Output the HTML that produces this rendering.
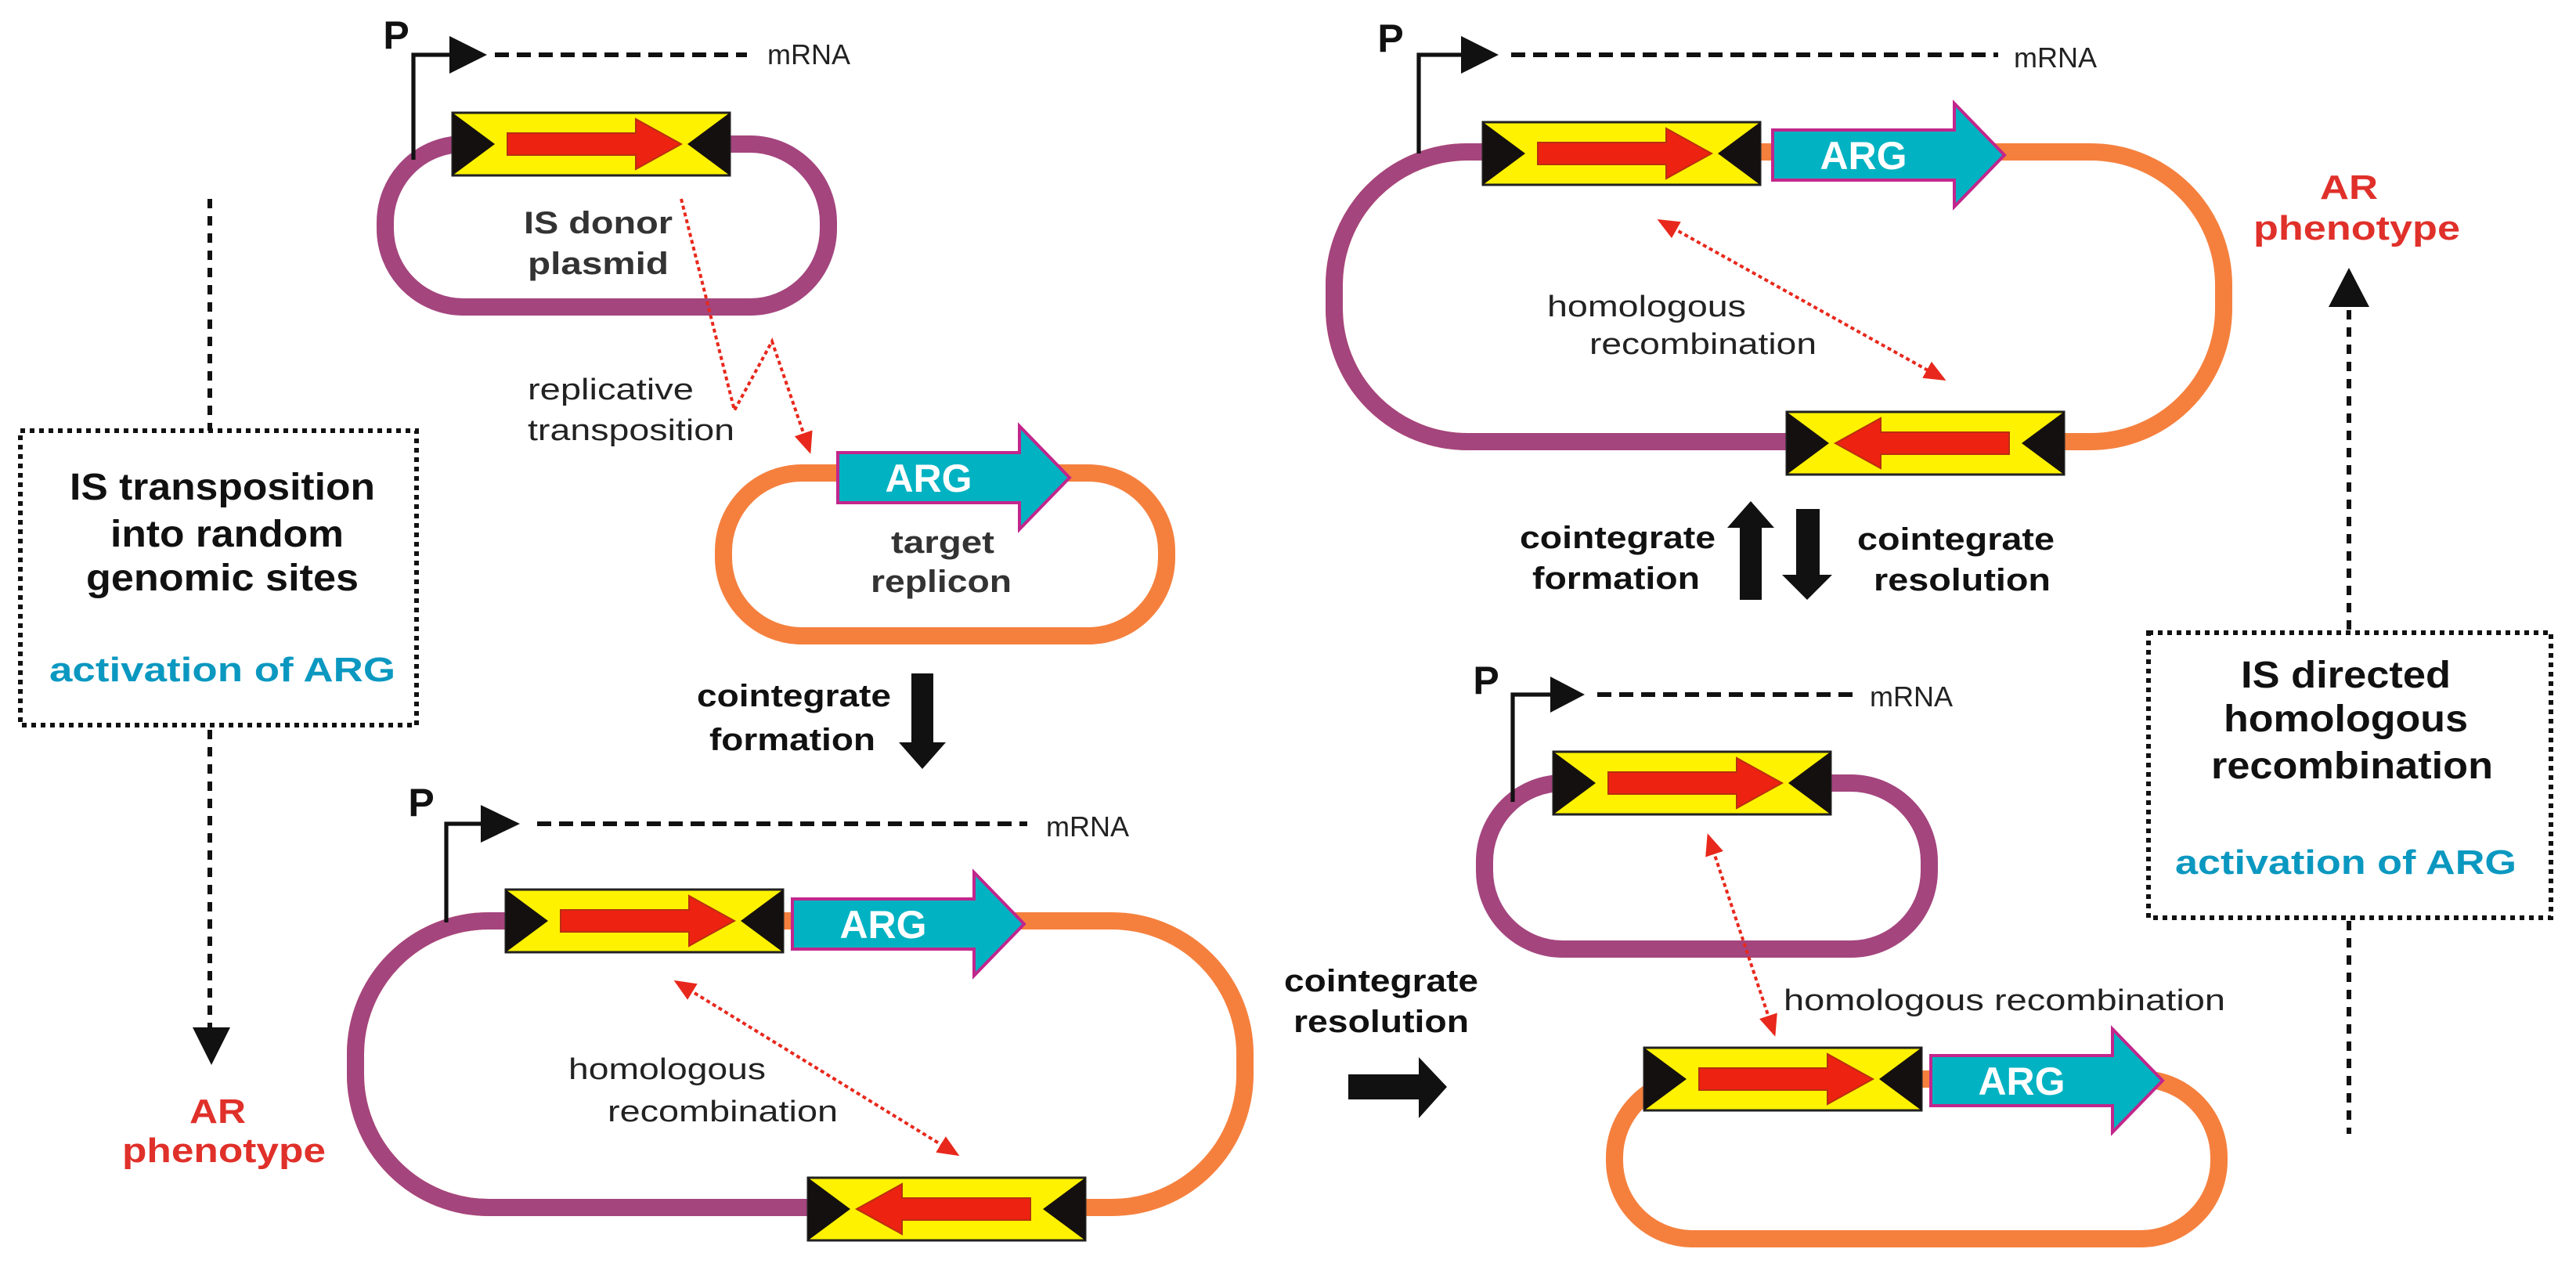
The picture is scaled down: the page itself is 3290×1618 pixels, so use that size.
<!DOCTYPE html>
<html><head><meta charset="utf-8"><style>
html,body{margin:0;padding:0;background:#fff;}
svg{display:block;}
text{font-family:"Liberation Sans",Arial,sans-serif;}
.b{font-weight:bold;}
</style></head><body>
<svg xmlns="http://www.w3.org/2000/svg" width="3290" height="1618" viewBox="0 0 1645 809">
<defs>
<marker id="rh" markerUnits="userSpaceOnUse" markerWidth="14" markerHeight="12" refX="12" refY="6" orient="auto-start-reverse"><path d="M0,0 L14,6 L0,12 z" fill="#e8281c"/></marker>
<g id="isf"><rect width="177" height="40" fill="#fff200" stroke="#222" stroke-width="1.5"/><polygon points="0,0 27,20 0,40" fill="#151010"/><polygon points="177,0 150,20 177,40" fill="#151010"/><polygon points="35,13 117,13 117,4 146,20 117,36 117,27 35,27" fill="#ee2211" stroke="#b83010" stroke-width="1"/></g>
<g id="isr"><rect width="177" height="40" fill="#fff200" stroke="#222" stroke-width="1.5"/><polygon points="0,0 27,20 0,40" fill="#151010"/><polygon points="177,0 150,20 177,40" fill="#151010"/><polygon points="142,13 60,13 60,4 31,20 60,36 60,27 142,27" fill="#ee2211" stroke="#b83010" stroke-width="1"/></g>
<g id="arg"><polygon points="0,17 116,17 116,0 148,33 116,66 116,49 0,49" fill="#00b2c2" stroke="#c2268c" stroke-width="2"/><text x="58" y="42" font-size="25" font-weight="bold" fill="#fff" text-anchor="middle">ARG</text></g>
</defs>

<!-- loops -->
<rect x="246" y="92" width="283" height="104" rx="50" fill="none" stroke="#a4457e" stroke-width="11"/>
<rect x="462" y="302" width="283" height="104" rx="50" fill="none" stroke="#f5803e" stroke-width="11"/>
<rect x="227" y="588" width="568" height="183" rx="85" fill="none" stroke="#f5803e" stroke-width="11"/>
<path d="M 323 588 H 312 A 85 85 0 0 0 227 673 V 686 A 85 85 0 0 0 312 771 H 516" fill="none" stroke="#a4457e" stroke-width="11"/>
<rect x="852" y="97" width="568" height="185" rx="85" fill="none" stroke="#f5803e" stroke-width="11"/>
<path d="M 947 97 H 937 A 85 85 0 0 0 852 182 V 197 A 85 85 0 0 0 937 282 H 1141" fill="none" stroke="#a4457e" stroke-width="11"/>
<rect x="948" y="500" width="284" height="106" rx="50" fill="none" stroke="#a4457e" stroke-width="11"/>
<rect x="1031" y="689" width="386" height="102" rx="50" fill="none" stroke="#f5803e" stroke-width="11"/>

<!-- IS boxes -->
<use href="#isf" x="289" y="72"/>
<use href="#isf" x="323" y="568"/>
<use href="#isr" x="516" y="752"/>
<use href="#isf" x="947" y="78"/>
<use href="#isr" x="1141" y="263"/>
<use href="#isf" x="992" y="480"/>
<use href="#isf" x="1050" y="669"/>

<!-- ARG -->
<use href="#arg" x="535" y="272"/>
<use href="#arg" x="506" y="557"/>
<use href="#arg" x="1132" y="66"/>
<use href="#arg" x="1233" y="657"/>

<!-- promoters -->
<g fill="none" stroke="#111" stroke-width="2.6">
<path d="M264 102 V35 H290"/><path d="M285 589 V526 H310"/><path d="M906 98 V35 H936"/><path d="M966 512 V443.5 H992"/>
</g>
<g fill="#111">
<polygon points="287,23 311,35 287,47"/><polygon points="307,514 332,526 307,538"/><polygon points="933,23 957,35 933,47"/><polygon points="990,432 1012,443.5 990,455"/>
</g>
<g stroke="#111" stroke-width="3" stroke-dasharray="9 5">
<line x1="316" y1="35" x2="477" y2="35"/><line x1="343" y1="526" x2="656" y2="526"/><line x1="965" y1="35" x2="1276" y2="35"/><line x1="1020" y1="443.5" x2="1186" y2="443.5"/>
</g>
<g font-size="25" font-weight="bold" fill="#111" text-anchor="middle">
<text x="253" y="31">P</text><text x="269" y="521">P</text><text x="888" y="33">P</text><text x="949" y="443">P</text>
</g>
<g font-size="18" fill="#222">
<text x="490" y="41">mRNA</text><text x="668" y="534">mRNA</text><text x="1286" y="43">mRNA</text><text x="1194" y="451">mRNA</text>
</g>

<!-- red dotted arrows -->
<g fill="none" stroke="#e8281c" stroke-width="2" stroke-dasharray="2.5 2">
<polyline points="435,127 469,262 493,218 517,288" marker-end="url(#rh)"/>
<line x1="432" y1="627" x2="611" y2="737" marker-start="url(#rh)" marker-end="url(#rh)"/>
<line x1="1060" y1="141" x2="1241" y2="242" marker-start="url(#rh)" marker-end="url(#rh)"/>
<line x1="1091" y1="534" x2="1133" y2="660" marker-start="url(#rh)" marker-end="url(#rh)"/>
</g>

<!-- dotted boxes and connectors -->
<g fill="none" stroke="#111" stroke-width="3" stroke-dasharray="3 3">
<rect x="13" y="275" width="253" height="188"/>
<rect x="1372" y="404" width="257" height="182"/>
</g>
<g stroke="#111" stroke-width="3" stroke-dasharray="6 5">
<line x1="134" y1="127" x2="134" y2="275"/><line x1="134" y1="466" x2="134" y2="660"/>
<line x1="1500" y1="198" x2="1500" y2="404"/><line x1="1500" y1="588" x2="1500" y2="724"/>
</g>
<polygon points="123,656 147,656 135,680" fill="#111"/>
<polygon points="1487,196 1513,196 1500,171" fill="#111"/>

<!-- big black arrows -->
<g fill="#111">
<polygon points="582,430 596,430 596,474 604,474 589,491 574,474 582,474"/>
<polygon points="1111,383 1125,383 1125,337 1133,337 1118,320 1103,337 1111,337"/>
<polygon points="1147,325 1162,325 1162,367 1170,367 1154,383 1138,367 1147,367"/>
<polygon points="861,686 906,686 906,675 924,694 906,714 906,702 861,702"/>
</g>

<!-- labels -->
<g font-size="20" font-weight="bold" fill="#333" text-anchor="middle">
<text x="382" y="149" textLength="95" lengthAdjust="spacingAndGlyphs">IS donor</text>
<text x="382" y="175" textLength="90" lengthAdjust="spacingAndGlyphs">plasmid</text>
<text x="602" y="353" textLength="66" lengthAdjust="spacingAndGlyphs">target</text>
<text x="601" y="378" textLength="90" lengthAdjust="spacingAndGlyphs">replicon</text>
</g>
<g font-size="19" fill="#222">
<text x="337" y="255" textLength="106" lengthAdjust="spacingAndGlyphs">replicative</text>
<text x="337" y="281" textLength="132" lengthAdjust="spacingAndGlyphs">transposition</text>
<text x="363" y="689" textLength="126" lengthAdjust="spacingAndGlyphs">homologous</text>
<text x="388" y="716" textLength="147" lengthAdjust="spacingAndGlyphs">recombination</text>
<text x="988" y="202" textLength="127" lengthAdjust="spacingAndGlyphs">homologous</text>
<text x="1015" y="226" textLength="145" lengthAdjust="spacingAndGlyphs">recombination</text>
<text x="1139" y="645" textLength="282" lengthAdjust="spacingAndGlyphs">homologous recombination</text>
</g>
<g font-size="20" font-weight="bold" fill="#111" text-anchor="middle">
<text x="507" y="451" textLength="124" lengthAdjust="spacingAndGlyphs">cointegrate</text>
<text x="506" y="479" textLength="106" lengthAdjust="spacingAndGlyphs">formation</text>
<text x="1033" y="350" textLength="125" lengthAdjust="spacingAndGlyphs">cointegrate</text>
<text x="1032" y="376" textLength="107" lengthAdjust="spacingAndGlyphs">formation</text>
<text x="1249" y="351" textLength="126" lengthAdjust="spacingAndGlyphs">cointegrate</text>
<text x="1253" y="377" textLength="113" lengthAdjust="spacingAndGlyphs">resolution</text>
<text x="882" y="633" textLength="124" lengthAdjust="spacingAndGlyphs">cointegrate</text>
<text x="882" y="659" textLength="112" lengthAdjust="spacingAndGlyphs">resolution</text>
</g>
<g font-size="24" font-weight="bold" fill="#111" text-anchor="middle">
<text x="142" y="319" textLength="195" lengthAdjust="spacingAndGlyphs">IS transposition</text>
<text x="145" y="349" textLength="149" lengthAdjust="spacingAndGlyphs">into random</text>
<text x="142" y="377" textLength="174" lengthAdjust="spacingAndGlyphs">genomic sites</text>
<text x="1498" y="439" textLength="134" lengthAdjust="spacingAndGlyphs">IS directed</text>
<text x="1498" y="467" textLength="156" lengthAdjust="spacingAndGlyphs">homologous</text>
<text x="1502" y="497" textLength="180" lengthAdjust="spacingAndGlyphs">recombination</text>
</g>
<g font-size="22" font-weight="bold" fill="#0b98c0" text-anchor="middle">
<text x="142" y="435" textLength="221" lengthAdjust="spacingAndGlyphs">activation of ARG</text>
<text x="1498" y="558" textLength="218" lengthAdjust="spacingAndGlyphs">activation of ARG</text>
</g>
<g font-size="22" font-weight="bold" fill="#e0302a" text-anchor="middle">
<text x="139" y="717" textLength="36" lengthAdjust="spacingAndGlyphs">AR</text>
<text x="143" y="742" textLength="130" lengthAdjust="spacingAndGlyphs">phenotype</text>
<text x="1500" y="127" textLength="37" lengthAdjust="spacingAndGlyphs">AR</text>
<text x="1505" y="153" textLength="132" lengthAdjust="spacingAndGlyphs">phenotype</text>
</g>
</svg>
</body></html>
